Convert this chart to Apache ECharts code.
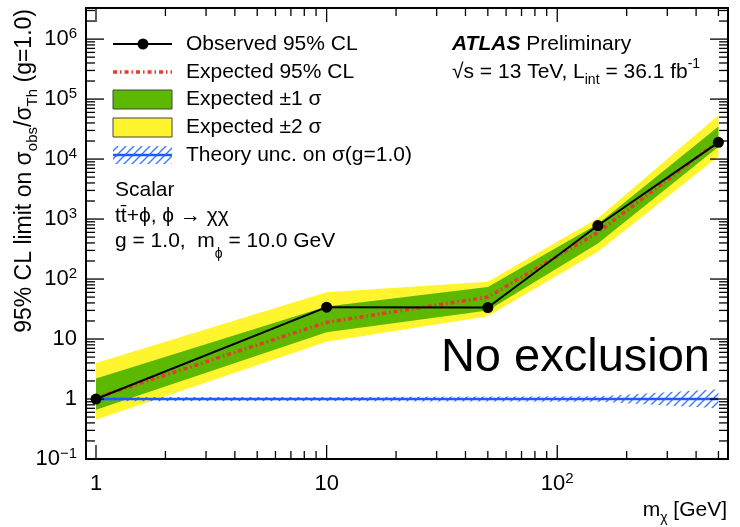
<!DOCTYPE html>
<html>
<head>
<meta charset="utf-8">
<script src="https://cdn.jsdelivr.net/npm/echarts@6/dist/echarts.min.js"></script>
<style>
  html, body { margin: 0; padding: 0; background: #fff; }
  #chart { width: 740px; height: 527px; }
</style>
</head>
<body>
<div id="chart"></div>
<script>
// mass points (GeV) and limits
var masses = [1, 10, 50, 150, 500];
var observed = [1.0, 34, 33.5, 780, 19000];
var expected = [1.05, 19, 50, 600, 20000];
var oneSigmaLow = [0.66, 13, 30, 390, 16000];
var oneSigmaHigh = [2.2, 35, 74, 830, 35000];
var twoSigmaLow = [0.45, 9, 24, 285, 11000];
var twoSigmaHigh = [4.0, 60, 90, 1030, 54000];
var theory = [1, 1, 1, 1, 1];
var theoryLow = [0.92, 0.92, 0.91, 0.9, 0.7];
var theoryHigh = [1.08, 1.08, 1.1, 1.11, 1.45];

// axis ticks
var xMajorTicks = [1, 10, 100];
var xMinorTicks = [2, 3, 4, 5, 6, 7, 8, 9, 20, 30, 40, 50, 60, 70, 80, 90, 200, 300, 400, 500];
var yMajorTicks = [0.1, 1, 10, 100, 1e3, 1e4, 1e5, 1e6];
var yMinorTicks = [];
yMajorTicks.forEach(function (d) {
  [2, 3, 4, 5, 6, 7, 8, 9].forEach(function (k) {
    if (k * d <= 3.3e6) yMinorTicks.push(k * d);
  });
});

var FONT = 'Liberation Sans, Arial, Helvetica, sans-serif';
var GREEN = '#5cb800';
var YELLOW = '#fff52e';
var RED = '#e63b30';
var BLUE = '#1e5bff';

// hatch pattern for the theory band
var hatch = document.createElement('canvas');
hatch.width = 8;
hatch.height = 8;
var hctx = hatch.getContext('2d');
hctx.strokeStyle = '#3b7bff';
hctx.lineWidth = 1.4;
hctx.beginPath();
hctx.moveTo(0, 8); hctx.lineTo(8, 0);
hctx.moveTo(-1, 1); hctx.lineTo(1, -1);
hctx.moveTo(7, 9); hctx.lineTo(9, 7);
hctx.stroke();
var hatchFill = { image: hatch, repeat: 'repeat' };

function pts(lo, hi) {
  return masses.map(function (m, i) { return [m, lo[i], hi[i]]; });
}

function band(name, lo, hi, fill, z) {
  return {
    type: 'custom',
    name: name,
    coordinateSystem: 'cartesian2d',
    silent: true,
    clip: true,
    z: z,
    data: pts(lo, hi),
    renderItem: function (params, api) {
      if (params.dataIndex !== 0) return null;
      var up = masses.map(function (m, i) { return api.coord([m, hi[i]]); });
      var down = masses.map(function (m, i) { return api.coord([m, lo[i]]); }).reverse();
      return { type: 'polygon', shape: { points: up.concat(down) }, style: { fill: fill } };
    }
  };
}

function line(vals) {
  return masses.map(function (m, i) { return [m, vals[i]]; });
}

function powLabel(v) {
  var l = Math.log10(v);
  var e = Math.round(l);
  if (Math.abs(l - e) > 1e-6) return '';
  if (e === 0) return '{b|1}';
  if (e === 1) return '{b|10}';
  return '{b|10}{s|' + (e < 0 ? '\u2212' + (-e) : e) + '}';
}

var labelRich = {
  b: { fontSize: 22, fontFamily: FONT, color: '#000', lineHeight: 26 },
  s: { fontSize: 15, fontFamily: FONT, color: '#000', lineHeight: 15, verticalAlign: 'top' }
};

var tickLen = [14, 8, 18, 9];
var tickData = [];
xMajorTicks.forEach(function (v) { tickData.push([v, 1, 0]); });
xMinorTicks.forEach(function (v) { tickData.push([v, 1, 1]); });
yMajorTicks.forEach(function (v) { tickData.push([1, v, 2]); });
yMinorTicks.forEach(function (v) { tickData.push([1, v, 3]); });

function txt(x, y, text, rich, extra) {
  var el = {
    type: 'text', x: x, y: y, z: 100,
    style: Object.assign({
      text: text, rich: rich, fill: '#000',
      fontFamily: FONT, fontSize: 21,
      align: 'left', verticalAlign: 'middle'
    }, extra || {})
  };
  return el;
}

var r21 = {
  n: { fontSize: 21, fontFamily: FONT, color: '#000', lineHeight: 30 },
  a: { fontSize: 21, fontFamily: FONT, color: '#000', lineHeight: 30, fontWeight: 'bold', fontStyle: 'italic' },
  sub: { fontSize: 14, fontFamily: FONT, color: '#000', lineHeight: 14, verticalAlign: 'bottom' },
  sup: { fontSize: 14, fontFamily: FONT, color: '#000', lineHeight: 14, verticalAlign: 'top' }
};
var rLow = {
  n: { fontSize: 21, fontFamily: FONT, color: '#000', lineHeight: 40 },
  sub: { fontSize: 14, fontFamily: FONT, color: '#000', lineHeight: 14, verticalAlign: 'bottom' }
};
var rTitle = {
  n: { fontSize: 23, fontFamily: FONT, color: '#000', lineHeight: 31 },
  sub: { fontSize: 15, fontFamily: FONT, color: '#000', lineHeight: 15, verticalAlign: 'bottom' }
};

var chart = echarts.init(document.getElementById('chart'), null, { renderer: 'canvas' });

var option = {
  animation: false,
  backgroundColor: '#fff',
  grid: {
    left: 86, right: 12, top: 8, bottom: 68,
    show: true, borderColor: '#000', borderWidth: 2, backgroundColor: 'transparent'
  },
  xAxis: {
    type: 'log', logBase: 10, min: 0.905, max: 550,
    axisLine: { show: false }, axisTick: { show: false }, splitLine: { show: false },
    axisLabel: { margin: 12, formatter: powLabel, rich: labelRich, hideOverlap: false }
  },
  yAxis: {
    type: 'log', logBase: 10, min: 0.1, max: 3.3e6,
    axisLine: { show: false }, axisTick: { show: false }, splitLine: { show: false },
    axisLabel: { margin: 9, formatter: powLabel, rich: labelRich, hideOverlap: false }
  },
  series: [
    band('Expected ±2 σ', twoSigmaLow, twoSigmaHigh, YELLOW, 2),
    band('Expected ±1 σ', oneSigmaLow, oneSigmaHigh, GREEN, 3),
    band('Theory unc.', theoryLow, theoryHigh, hatchFill, 4),
    {
      type: 'line', name: 'Theory', z: 5, silent: true,
      data: line(theory), showSymbol: false,
      lineStyle: { color: BLUE, width: 2.5 }
    },
    {
      type: 'line', name: 'Expected 95% CL', z: 6, silent: true,
      data: line(expected), showSymbol: false,
      lineStyle: { color: RED, width: 3.5, type: [4, 3, 1.5, 3] }
    },
    {
      type: 'line', name: 'Observed 95% CL', z: 7, silent: true,
      data: line(observed), symbol: 'circle', symbolSize: 11,
      itemStyle: { color: '#000' },
      lineStyle: { color: '#000', width: 2 }
    },
    {
      type: 'custom', name: 'ticks', coordinateSystem: 'cartesian2d',
      silent: true, clip: false, z: 10,
      dimensions: ['x', 'y', 'kind'],
      encode: { x: 0, y: 1 },
      data: tickData,
      renderItem: function (params, api) {
        var cs = params.coordSys;
        var kind = api.value(2);
        var p = api.coord([api.value(0), api.value(1)]);
        var len = tickLen[kind];
        var st = { stroke: '#000', lineWidth: 1.3 };
        if (kind < 2) {
          return { type: 'group', children: [
            { type: 'line', shape: { x1: p[0], y1: cs.y + cs.height, x2: p[0], y2: cs.y + cs.height - len }, style: st },
            { type: 'line', shape: { x1: p[0], y1: cs.y, x2: p[0], y2: cs.y + len }, style: st }
          ] };
        }
        return { type: 'group', children: [
          { type: 'line', shape: { x1: cs.x, y1: p[1], x2: cs.x + len, y2: p[1] }, style: st },
          { type: 'line', shape: { x1: cs.x + cs.width, y1: p[1], x2: cs.x + cs.width - len, y2: p[1] }, style: st }
        ] };
      }
    }
  ],
  graphic: [
    // legend
    { type: 'line', z: 100, shape: { x1: 113, y1: 44, x2: 172, y2: 44 }, style: { stroke: '#000', lineWidth: 2 } },
    { type: 'circle', z: 100, shape: { cx: 143, cy: 44, r: 5.5 }, style: { fill: '#000' } },
    txt(186, 44, 'Observed 95% CL'),
    { type: 'line', z: 100, shape: { x1: 113, y1: 72, x2: 172, y2: 72 }, style: { stroke: RED, lineWidth: 3.5, lineDash: [4, 3, 1.5, 3] } },
    txt(186, 72, 'Expected 95% CL'),
    { type: 'rect', z: 100, shape: { x: 113, y: 90, width: 59, height: 19 }, style: { fill: GREEN, stroke: '#444', lineWidth: 1 } },
    txt(186, 99, 'Expected ±1 σ'),
    { type: 'rect', z: 100, shape: { x: 113, y: 118, width: 59, height: 19 }, style: { fill: YELLOW, stroke: '#444', lineWidth: 1 } },
    txt(186, 127, 'Expected ±2 σ'),
    { type: 'rect', z: 100, shape: { x: 113, y: 146, width: 59, height: 18 }, style: { fill: hatchFill } },
    { type: 'line', z: 100, shape: { x1: 113, y1: 155, x2: 172, y2: 155 }, style: { stroke: BLUE, lineWidth: 2.5 } },
    txt(186, 155, 'Theory unc. on σ(g=1.0)'),
    // model text
    txt(115, 190, 'Scalar'),
    txt(115, 216, 'tt\u0304+\u03d5, \u03d5 \u2192 \u03c7\u03c7'),
    txt(115, 241, '{n|g = 1.0,  m}{sub|\u03d5}{n| = 10.0 GeV}', rLow),
    // ATLAS label
    txt(452, 44, '{a|ATLAS}{n| Preliminary}', r21),
    txt(452, 72, '{n|\u221as = 13 TeV, L}{sub|int}{n| = 36.1 fb}{sup|-1}', r21),
    // no exclusion
    txt(710, 358, 'No exclusion', null, { fontSize: 47, align: 'right' }),
    // axis titles
    txt(727, 510, '{n|m}{sub|\u03c7}{n| [GeV]}', r21, { align: 'right' }),
    {
      type: 'text', x: 25, y: 9, rotation: Math.PI / 2, z: 100,
      style: {
        text: '{n|95% CL limit on \u03c3}{sub|obs}{n|/\u03c3}{sub|Th}{n| (g=1.0)}',
        rich: rTitle, fill: '#000', fontFamily: FONT, fontSize: 23,
        align: 'right', verticalAlign: 'middle'
      }
    }
  ]
};

chart.setOption(option);
</script>
</body>
</html>
